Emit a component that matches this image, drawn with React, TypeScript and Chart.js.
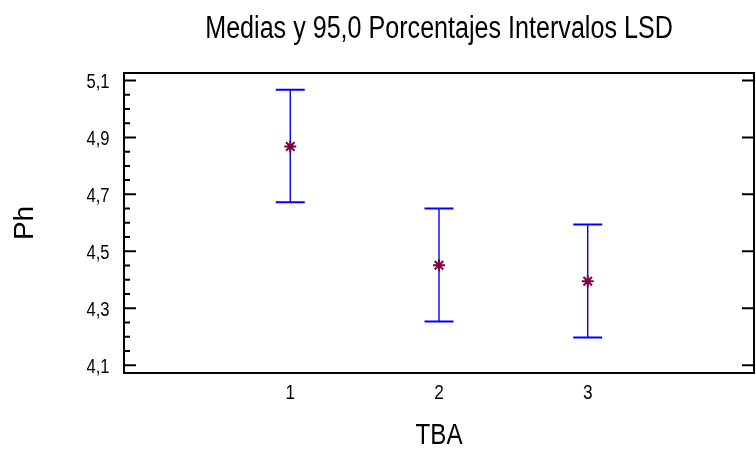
import { useEffect, useRef } from "react";
import { Chart, registerables } from "chart.js";

Chart.register(...registerables);

// ---- data ----
const categories = [1, 2, 3];
const categoryLabels = ["1", "2", "3"];
const means = [4.868, 4.451, 4.395];
const lowerLimits = [4.672, 4.254, 4.198];
const upperLimits = [5.067, 4.65, 4.594];
const yMajorTicks = [4.1, 4.3, 4.5, 4.7, 4.9, 5.1];
const yMinorTicks = [4.15, 4.2, 4.25, 4.35, 4.4, 4.45, 4.55, 4.6, 4.65, 4.75, 4.8, 4.85, 4.95, 5.0, 5.05];
const yMin = 4.073;
const yMax = 5.126;
const xMin = -0.118;
const xMax = 4.118;

const chartTitle = "Medias y 95,0 Porcentajes Intervalos LSD";
const xTitle = "TBA";
const yTitle = "Ph";

const SANS = "'Liberation Sans', Arial, sans-serif";

// draws horizontally condensed text (Arial Narrow look)
function narrowText(
  ctx: CanvasRenderingContext2D,
  text: string,
  x: number,
  y: number,
  size: number,
  align: CanvasTextAlign,
  sx: number
) {
  ctx.save();
  ctx.font = `${size}px ${SANS}`;
  ctx.fillStyle = "#000";
  ctx.textBaseline = "alphabetic";
  ctx.textAlign = align;
  ctx.translate(x, y);
  ctx.scale(sx, 1);
  ctx.fillText(text, 0, 0);
  ctx.restore();
}

const intervalPlugin = {
  id: "intervalPlugin",
  beforeDatasetsDraw(chart: any) {
    const { ctx, scales } = chart;
    const xs = scales.x;
    const ys = scales.y;
    ctx.save();
    ctx.strokeStyle = "#0000ff";
    categories.forEach((c, i) => {
      const px = xs.getPixelForValue(c);
      const pl = ys.getPixelForValue(lowerLimits[i]);
      const pu = ys.getPixelForValue(upperLimits[i]);
      ctx.lineWidth = 1.4;
      ctx.beginPath();
      ctx.moveTo(px, pu);
      ctx.lineTo(px, pl);
      ctx.stroke();
      ctx.lineWidth = 2;
      ctx.beginPath();
      ctx.moveTo(px - 14.5, pu);
      ctx.lineTo(px + 14.5, pu);
      ctx.moveTo(px - 14.5, pl);
      ctx.lineTo(px + 14.5, pl);
      ctx.stroke();
    });
    ctx.restore();
  },
  afterDraw(chart: any) {
    const { ctx, chartArea: a, scales } = chart;
    const xs = scales.x;
    const ys = scales.y;
    ctx.save();
    ctx.strokeStyle = "#000";
    ctx.lineWidth = 2;
    ctx.beginPath();
    ctx.moveTo(a.left, a.top);
    ctx.lineTo(a.right, a.top);
    ctx.lineTo(a.right, a.bottom);
    ctx.lineTo(a.left, a.bottom);
    ctx.closePath();
    ctx.stroke();
    ctx.beginPath();
    yMajorTicks.forEach((v) => {
      const py = ys.getPixelForValue(v);
      ctx.moveTo(a.left, py);
      ctx.lineTo(a.left + 12, py);
      ctx.moveTo(a.right, py);
      ctx.lineTo(a.right - 12, py);
    });
    yMinorTicks.forEach((v) => {
      const py = ys.getPixelForValue(v);
      ctx.moveTo(a.left, py);
      ctx.lineTo(a.left + 6, py);
    });
    ctx.stroke();
    ctx.restore();

    // texts
    const cx = (a.left + a.right) / 2;
    narrowText(ctx, chartTitle, cx, 38, 31, "center", 0.81);
    yMajorTicks.forEach((v) => {
      const py = ys.getPixelForValue(v);
      narrowText(ctx, v.toFixed(1).replace(".", ","), a.left - 14.5, py + 7.4, 20.5, "right", 0.81);
    });
    categories.forEach((c, i) => {
      const px = xs.getPixelForValue(c);
      narrowText(ctx, categoryLabels[i], px, a.bottom + 26, 21, "center", 0.82);
    });
    narrowText(ctx, xTitle, cx, 444, 29.5, "center", 0.82);
  },
};

export default function App() {
  const canvasRef = useRef<HTMLCanvasElement | null>(null);

  useEffect(() => {
    const canvas = canvasRef.current;
    if (!canvas) return;
    const chart = new Chart(canvas, {
      type: "scatter",
      data: {
        datasets: [
          {
            label: "Medias",
            data: categories.map((c, i) => ({ x: c, y: means[i] })),
            pointStyle: "star",
            pointRadius: 6,
            pointHoverRadius: 6,
            borderColor: "#800040",
            backgroundColor: "#800040",
            borderWidth: 2,
          },
        ],
      },
      options: {
        responsive: false,
        animation: false,
        devicePixelRatio: 1,
        layout: { padding: { top: 73, left: 0, right: 0, bottom: 0 } },
        plugins: {
          legend: { display: false },
          tooltip: { enabled: false },
          title: { display: false },
        },
        scales: {
          x: {
            type: "linear",
            min: xMin,
            max: xMax,
            grid: { display: false, drawTicks: false },
            border: { display: false },
            afterBuildTicks: (s: any) => {
              s.ticks = categories.map((v) => ({ value: v }));
            },
            afterFit: (s: any) => {
              s.height = 77;
            },
            ticks: { display: false },
            title: { display: false },
          },
          y: {
            type: "linear",
            min: yMin,
            max: yMax,
            grid: { display: false, drawTicks: false },
            border: { display: false },
            afterBuildTicks: (s: any) => {
              s.ticks = yMajorTicks.map((v) => ({ value: v }));
            },
            afterFit: (s: any) => {
              s.width = 124;
            },
            ticks: { display: false },
            title: {
              display: true,
              text: yTitle,
              color: "#000",
              font: { family: SANS, size: 28, lineHeight: 1.2 },
              padding: { top: 8.7, bottom: 0 },
            },
          },
        },
      },
      plugins: [intervalPlugin],
    });
    return () => chart.destroy();
  }, []);

  return (
    <div
      style={{
        position: "fixed",
        left: 0,
        top: 0,
        width: 756,
        height: 450,
        overflow: "hidden",
        background: "#fff",
      }}
    >
      <canvas ref={canvasRef} width={762} height={450} style={{ width: 762, height: 450, display: "block" }} />
    </div>
  );
}
